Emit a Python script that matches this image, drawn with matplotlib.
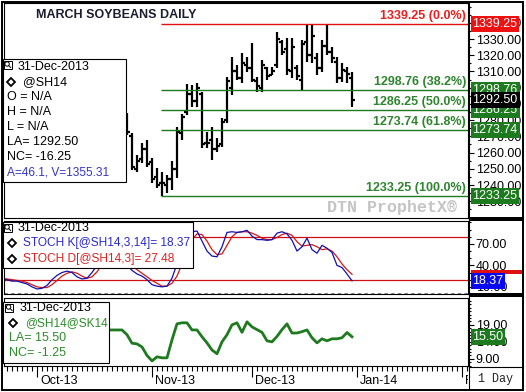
import numpy as np
import pandas as pd
import matplotlib
matplotlib.use('Agg')
import matplotlib.pyplot as plt
from matplotlib.patches import Rectangle, Circle
from matplotlib.ticker import MultipleLocator, FixedLocator, FormatStrFormatter
from matplotlib.transforms import Bbox, TransformedBbox

plt.rcParams['font.family'] = ['Liberation Sans', 'DejaVu Sans']

# ---- values ----
bar_start = '2013-10-25'
bar_open = [1282, 1270, 1250, 1256, 1262, 1254, 1245, 1241, 1240, 1244,
            1250, 1272, 1285, 1296, 1292, 1296, 1266, 1268, 1262, 1265,
            1280, 1300, 1310, 1306, 1314, 1312, 1304, 1300, 1312, 1308,
            1314, 1328, 1324, 1310, 1312, 1305, 1328, 1320, 1318, 1312,
            1326, 1322, 1316, 1306, 1310, 1306]
bar_high = [1284.4, 1272.0, 1258.5, 1266.0, 1267.8, 1256.7, 1250.5, 1248.0, 1246.2, 1255.0,
            1275.8, 1284.0, 1302.0, 1301.7, 1303.0, 1297.4, 1272.7, 1275.8, 1269.0, 1281.3,
            1306.6, 1319.0, 1314.0, 1321.4, 1318.9, 1327.5, 1306.6, 1317.0, 1312.8, 1313.0,
            1334.3, 1329.4, 1330.6, 1330.6, 1314.0, 1329.4, 1338.6, 1339.25, 1321.4, 1329.4,
            1338.6, 1325.0, 1318.9, 1315.2, 1312.6, 1309.7]
bar_low = [1270.9, 1249.3, 1248.0, 1253.6, 1251.0, 1241.3, 1238.0, 1233.25, 1235.0, 1237.0,
           1244.4, 1268.0, 1283.0, 1288.0, 1288.0, 1262.8, 1262.8, 1255.5, 1260.4, 1263.5,
           1278.0, 1295.5, 1304.7, 1302.9, 1309.7, 1303.5, 1297.3, 1297.3, 1304.7, 1308.0,
           1312.1, 1320.2, 1307.8, 1306.0, 1304.7, 1298.6, 1315.8, 1315.2, 1307.8, 1309.7,
           1320.2, 1315.2, 1302.9, 1303.5, 1302.9, 1288.1]
bar_close = [1273, 1251, 1255, 1262, 1253, 1244, 1240, 1241, 1244, 1250,
             1273, 1282, 1296, 1292, 1300, 1265, 1266, 1262, 1264, 1279,
             1304, 1310, 1306, 1315, 1312, 1305, 1301, 1314, 1307, 1310,
             1330, 1322, 1311, 1325, 1307, 1327, 1320, 1332, 1312, 1326,
             1322, 1318, 1306, 1311, 1308.75, 1292.5]

stoch_start = '2013-09-20'
stoch_k = [20, 20, 18, 18, 16, 14, 10, 7, 8, 12, 20, 26, 30, 32, 30, 24, 21, 22,
           30, 40, 52, 60, 62, 58, 48, 40, 33, 28, 25, 20, 13, 11, 10, 11, 22, 42,
           62, 78, 87, 88, 74, 60, 53, 52, 66, 86, 87, 86, 87, 89, 81, 76, 76, 75,
           76, 85, 87, 84, 75, 60, 66, 78, 62, 57, 68, 64, 58, 40, 37, 28, 18.37]
stoch_d = [22, 21, 20, 19, 18, 16, 13, 10, 9, 9, 13, 19, 25, 29, 31, 29, 25, 22,
           24, 31, 41, 51, 58, 60, 56, 49, 40, 34, 29, 24, 19, 15, 11, 11, 15, 25,
           42, 61, 76, 84, 83, 74, 62, 55, 56, 68, 80, 86, 87, 87, 85, 82, 78, 76,
           76, 79, 83, 85, 82, 73, 67, 68, 69, 66, 62, 63, 60, 52, 42, 34, 27.48]

spread_start = '2013-10-21'
spread = [17.5, 17.5, 17.5, 17.5, 16.1, 13.6, 13.4, 12.5, 10.0, 8.4,
          9.6, 9.3, 9.3, 14.6, 19.3, 19.6, 19.6, 17.5, 17.5, 15.5,
          13.7, 11.6, 10.5, 14.0, 16.1, 19.0, 19.6, 16.8, 19.9, 18.4,
          17.6, 16.8, 14.3, 14.0, 15.6, 17.6, 19.3, 16.6, 16.6, 17.0,
          17.5, 15.2, 13.7, 14.9, 14.3, 14.9, 14.9, 15.2, 16.75, 15.5]

fib_high = 1339.25
fib_low = 1233.25
fib_pct = [0.0, 38.2, 50.0, 61.8, 100.0]

month_labels = ['Oct-13', 'Nov-13', 'Dec-13', 'Jan-14', 'Feb-14']

# ---- trading calendar (x = trading days from 1-Oct-2013) ----
holidays = pd.to_datetime(['2013-11-28', '2013-12-25', '2014-01-01', '2014-01-20'])
days = pd.bdate_range('2013-09-20', '2014-02-20')
days = days[~days.isin(holidays)]
origin = days.get_loc(pd.Timestamp('2013-10-01'))
pos = np.arange(len(days)) - origin


def xs(start, n):
    k = days.get_loc(pd.Timestamp(start))
    return pos[k:k + n]


xb = xs(bar_start, len(bar_high))
xk = xs(stoch_start, len(stoch_k))
xsp = xs(spread_start, len(spread))
month_pos = [pos[np.argmax((days.year == d.year) & (days.month == d.month))]
             for d in pd.to_datetime(['2013-10-01', '2013-11-01', '2013-12-01', '2014-01-01', '2014-02-01'])]

W, H = 526, 392
fig = plt.figure(figsize=(W / 100, H / 100), dpi=100, facecolor='white')


def add_ax(l, t, r, b):
    return fig.add_axes([l / W, 1 - b / H, (r - l) / W, (b - t) / H])


ax_p = add_ax(4, 3, 468, 218)
ax_s = add_ax(4, 221, 468, 294)
ax_r = add_ax(4, 298, 468, 366)

GREEN = '#1e7a1e'
for ax in (ax_p, ax_s, ax_r):
    ax.set_xlim(-6.6, 86.2)
    for sp in ax.spines.values():
        sp.set_linewidth(0.8)
    ax.tick_params(axis='y', which='both', left=False, right=True, labelleft=False,
                   labelright=True, direction='out', width=0.8, labelsize=9, pad=1.5)
    ax.tick_params(axis='y', which='major', length=4)
    ax.tick_params(axis='y', which='minor', length=2.5)
    ax.yaxis.set_major_formatter(FormatStrFormatter('%.2f'))

# ---- price panel ----
ax_p.set_ylim(1219.7, 1352.2)
ax_p.yaxis.set_major_locator(FixedLocator(np.arange(1230, 1341, 10)))
ax_p.yaxis.set_minor_locator(MultipleLocator(5))
ax_p.tick_params(axis='x', bottom=False, labelbottom=False)
ax_p.vlines(xb, bar_low, bar_high, color='black', lw=1.6)
ax_p.hlines(bar_open, xb - 0.55, xb, color='black', lw=1.6)
ax_p.hlines(bar_close, xb, xb + 0.55, color='black', lw=1.6)

x_lo = xb[int(np.argmin(bar_low))]
for p in fib_pct:
    lvl = fib_high - p / 100 * (fib_high - fib_low)
    col = '#e01010' if p == 0 else GREEN
    tcol = '#e82020' if p == 0 else '#2f852f'
    ax_p.hlines(lvl, x_lo - 0.3, 86.2, color=col, lw=1.0)
    ax_p.annotate('%.2f (%.1f%%)' % (lvl, p), xy=(0.9957, lvl), xycoords=('axes fraction', 'data'),
                  xytext=(0, 1.5), textcoords='offset points', ha='right', va='bottom',
                  color=tcol, fontsize=9, fontweight='bold')

ax_p.text(0.976, 0.051, 'DTN ProphetX®', transform=ax_p.transAxes, ha='right', va='center',
          family=['Liberation Mono', 'DejaVu Sans Mono'], fontsize=12, fontweight='bold', color='#c4c4c4')


def tag(ax, value, text, bg):
    ax.text(1 + 4.5 / 464, value, text, transform=ax.get_yaxis_transform(), ha='left', va='center',
            color='white', fontsize=9, clip_on=False, zorder=5,
            bbox=dict(boxstyle='square,pad=0.15', fc=bg, ec='none'))


tag(ax_p, fib_high, '%.2f' % fib_high, '#ee1111')
for p in fib_pct[1:]:
    lvl = fib_high - p / 100 * (fib_high - fib_low)
    tag(ax_p, lvl, '%.2f' % lvl, GREEN)
tag(ax_p, bar_close[-1], '%.2f' % bar_close[-1], 'black')

# ---- stochastics panel ----
ax_s.set_ylim(0, 102)
ax_s.yaxis.set_major_locator(FixedLocator([10, 40, 70]))
ax_s.yaxis.set_minor_locator(MultipleLocator(10))
ax_s.tick_params(axis='x', bottom=False, labelbottom=False)
ax_s.axhline(80, color='#d01010', lw=0.9)
ax_s.axhline(20, color='#d01010', lw=0.9)
ax_s.axhline(1.2, color='#888888', lw=0.8, ls=(0, (3, 3)))
ax_s.plot(xk, stoch_d, color='#d01818', lw=0.9)
ax_s.plot(xk, stoch_k, color='#1010b0', lw=0.9)
# %D marker sits almost entirely under the %K marker; only a red strip shows
ax_s.add_patch(Rectangle((1 + 3 / 464, stoch_d[-1]), 51 / 464, 6, transform=ax_s.get_yaxis_transform(),
                         fc='#e01010', ec='none', clip_on=False, zorder=4))
tag(ax_s, stoch_k[-1], '%.2f' % stoch_k[-1], '#0a0af0')

# ---- spread panel ----
ax_r.set_ylim(6.9, 26.9)
ax_r.yaxis.set_major_locator(FixedLocator([9, 14, 19]))
ax_r.yaxis.set_minor_locator(MultipleLocator(1))
ax_r.plot(xsp, spread, color=GREEN, lw=2.0)
tag(ax_r, spread[-1], '%.2f' % spread[-1], GREEN)

ax_r.xaxis.set_major_locator(FixedLocator(month_pos))
ax_r.xaxis.set_minor_locator(MultipleLocator(1))
ax_r.tick_params(axis='x', which='major', direction='out', length=8, width=0.8, labelbottom=False)
ax_r.tick_params(axis='x', which='minor', direction='out', length=3.5, width=0.8)
clip = TransformedBbox(Bbox.from_extents(4 / W, 0, 468 / W, 1), fig.transFigure)
for mp, lab in zip(month_pos, month_labels):
    t = ax_r.text(mp + 0.6, -0.22, lab, transform=ax_r.get_xaxis_transform(), ha='left',
                  va='center', fontsize=9, clip_on=True)
    t.set_clip_box(clip)

# ---- overlay in pixel coordinates: frame, title, legends ----
ov = fig.add_axes([0, 0, 1, 1], zorder=10)
ov.set_xlim(0, W)
ov.set_ylim(H, 0)
ov.axis('off')

ov.add_patch(Rectangle((2, 1.5), 521, 388, fill=False, ec='black', lw=1.4))
ov.plot([468.5, 468.5], [1.5, 389.5], color='black', lw=0.8)
ov.plot([468.5, 523], [366.5, 366.5], color='black', lw=0.8)
ov.add_patch(Rectangle((469, 217), 54, 4, fc='black', ec='none'))
ov.add_patch(Rectangle((469, 293), 54, 4, fc='black', ec='none'))
ov.text(495, 379, '1 Day', ha='center', va='center', fontsize=8.5,
        family=['Liberation Mono', 'DejaVu Sans Mono'], color='#222222')

ov.text(36, 15, 'MARCH SOYBEANS DAILY', fontsize=9, fontweight='bold', color='#1c1c30', va='center')

FS = 8.6


def legend_box(l, t, r, b, icon_x, date_x, date_y):
    ov.add_patch(Rectangle((l, t), r - l, b - t, fc='white', ec='black', lw=0.8))
    ov.add_patch(Rectangle((icon_x, t + 1.5), 8, 8, fc='white', ec='black', lw=0.7))
    ov.add_patch(Circle((icon_x + 3.6, t + 5), 2.2, fill=False, ec='black', lw=0.7))
    ov.plot([icon_x + 5.2, icon_x + 7.2], [t + 6.6, t + 8.6], color='black', lw=0.7)
    ov.text(date_x, date_y, '31-Dec-2013', fontsize=9, va='center')


def diamond(x, y):
    ov.plot([x], [y], marker='D', ms=4.2, mfc='white', mec='black', mew=1.3)


legend_box(3, 59, 126, 182, 3.5, 18, 67)
diamond(11, 82)
ov.text(23, 82, '@SH14', fontsize=9, va='center')
for k, s in enumerate(['O = N/A', 'H = N/A', 'L = N/A', 'LA= 1292.50', 'NC= -16.25']):
    ov.text(7, 97 + 15 * k, s, fontsize=9, va='center')
ov.text(7, 172, 'A=46.1, V=1355.31', fontsize=FS, va='center', color='#3434c4')

legend_box(3, 222, 193, 268, 3.5, 18, 228)
diamond(12, 243)
ov.text(23, 243, 'STOCH K[@SH14,3,14]= 18.37', fontsize=FS, va='center', color='#2a2acc')
diamond(12, 259)
ov.text(23, 259, 'STOCH D[@SH14,3]= 27.48', fontsize=FS, va='center', color='#dd2222')

legend_box(3, 302, 109, 363, 5, 20, 308)
diamond(13, 323)
ov.text(25, 323, '@SH14@SK14', fontsize=FS, va='center', color='#2e8b2e')
ov.text(9, 338, 'LA= 15.50', fontsize=9, va='center', color='#2e8b2e')
ov.text(9, 353, 'NC= -1.25', fontsize=9, va='center', color='#2e8b2e')

fig.savefig('out.png', dpi=100, facecolor='white')
